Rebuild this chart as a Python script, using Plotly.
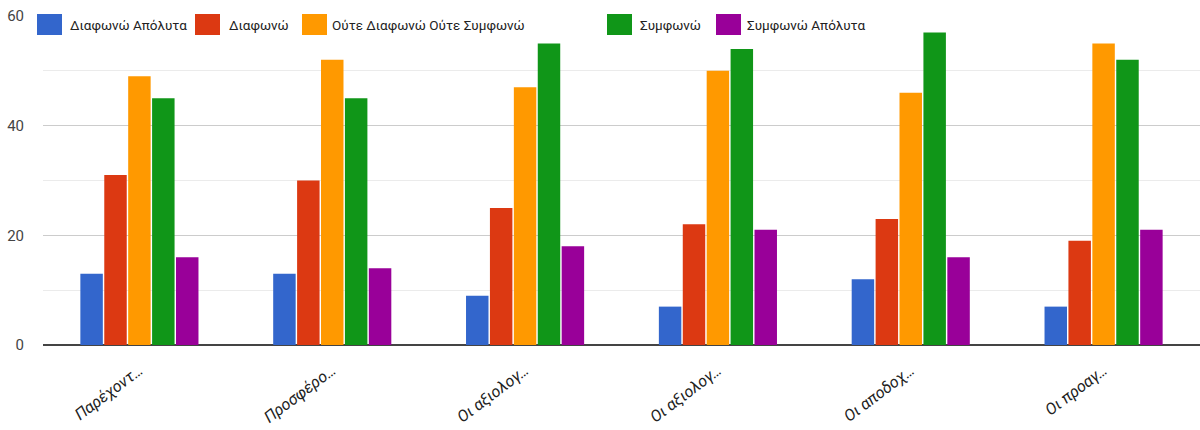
import plotly.graph_objects as go

# Survey items (truncated labels as shown on the axis)
categories = ["Παρέχοντ…", "Προσφέρο…", "Οι αξιολογ…", "Οι αξιολογ…", "Οι αποδοχ…", "Οι προαγ…"]

# Response scale
series_names = ["Διαφωνώ Απόλυτα", "Διαφωνώ", "Ούτε Διαφωνώ Ούτε Συμφωνώ", "Συμφωνώ", "Συμφωνώ Απόλυτα"]

diafono_apolyta = [13, 13, 9, 7, 12, 7]
diafono = [31, 30, 25, 22, 23, 19]
oute_oute = [49, 52, 47, 50, 46, 55]
symfono = [45, 45, 55, 54, 57, 52]
symfono_apolyta = [16, 14, 18, 21, 16, 21]

series_values = [diafono_apolyta, diafono, oute_oute, symfono, symfono_apolyta]
colors = ["#3366cc", "#dc3912", "#ff9900", "#109618", "#990099"]

FONT = "Roboto, Arial, sans-serif"

x_idx = list(range(len(categories)))

fig = go.Figure()
for name, vals, col in zip(series_names, series_values, colors):
    fig.add_trace(go.Bar(
        x=x_idx, y=vals, name=name,
        marker=dict(color=col, line=dict(width=0)),
        showlegend=False,
    ))

# Plot-area geometry in pixels (used to place the legend row)
L, R, T, B = 43, 0, 16, 85
W, H = 1200, 430
pw, ph = W - L - R, H - T - B


def px_x(p):
    return (p - L) / pw


def px_y(p):
    return (H - B - p) / ph


# Legend row across the top
legend_pos = [(37, 68), (195, 227), (302, 330), (607, 638), (716, 745)]
shapes = []
annotations = []
for (sx, tx), name, col in zip(legend_pos, series_names, colors):
    shapes.append(dict(
        type="rect", xref="paper", yref="paper",
        x0=px_x(sx), x1=px_x(sx + 25), y0=px_y(35), y1=px_y(14),
        fillcolor=col, line=dict(width=0), layer="above",
    ))
    annotations.append(dict(
        xref="paper", yref="paper", x=px_x(tx), y=px_y(25),
        xanchor="left", yanchor="middle", text=name, showarrow=False,
        font=dict(family=FONT, size=13.5, color="#222222"),
    ))

fig.update_layout(
    width=W, height=H,
    margin=dict(l=L, r=R, t=T, b=B, autoexpand=False),
    paper_bgcolor="white", plot_bgcolor="white",
    barmode="group", bargap=0.38, bargroupgap=0.06,
    shapes=shapes, annotations=annotations,
    font=dict(family=FONT),
)
fig.update_xaxes(
    tickmode="array", tickvals=x_idx, ticktext=categories,
    range=[-0.5, len(categories) - 0.5],
    tickangle=-37, showgrid=False, showline=False, ticks="",
    automargin=False, ticklabelstandoff=12,
    tickfont=dict(family=FONT, size=16, color="#222222", style="italic"),
)
fig.update_yaxes(
    range=[0, 60], tickvals=[0, 20, 40, 60],
    showgrid=True, gridcolor="#cccccc", gridwidth=1,
    minor=dict(dtick=10, showgrid=True, gridcolor="#ebebeb"),
    zeroline=True, zerolinecolor="#444444", zerolinewidth=2,
    showline=False, ticks="", ticklabelstandoff=18, automargin=False,
    tickfont=dict(family=FONT, size=15, color="#444444"),
)

fig.write_html("out.html")
